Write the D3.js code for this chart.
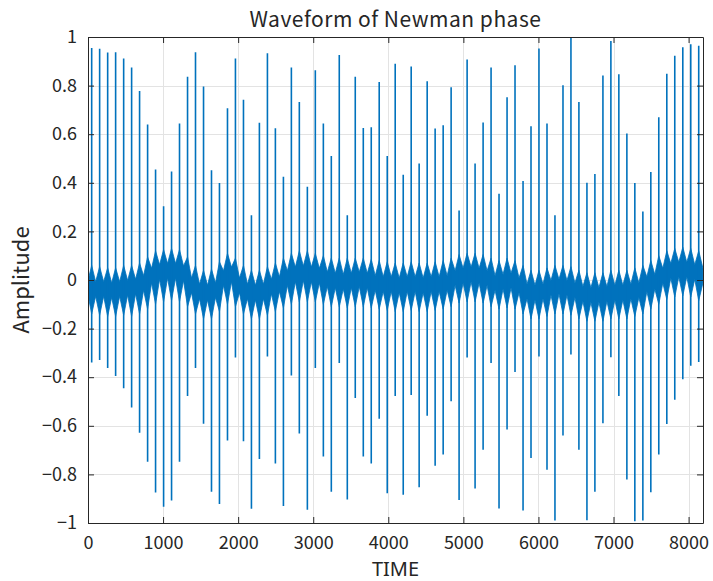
<!DOCTYPE html>
<html>
<head>
<meta charset="utf-8">
<script src="https://cdn.jsdelivr.net/npm/d3@7"></script>
<style>
  html, body { margin: 0; padding: 0; background: #fff; }
  svg { display: block; }
  text { font-family: "Noto Sans CJK JP", "Noto Sans", sans-serif; fill: #262626; }
</style>
</head>
<body>
<svg id="chart" width="713" height="581"></svg>
<script>
// Sample index of each burst in the Newman-phase multitone
const spikeTime = [49, 155, 262, 368, 475, 581, 687, 794, 900, 1007,
  1113, 1219, 1326, 1432, 1539, 1645, 1751, 1858, 1964, 2071,
  2177, 2283, 2390, 2496, 2603, 2709, 2815, 2922, 3028, 3135,
  3241, 3347, 3454, 3560, 3667, 3773, 3879, 3986, 4092, 4199,
  4305, 4411, 4518, 4624, 4731, 4837, 4943, 5050, 5156, 5263,
  5369, 5475, 5582, 5688, 5795, 5901, 6007, 6114, 6220, 6327,
  6433, 6539, 6646, 6752, 6859, 6965, 7071, 7178, 7284, 7391,
  7497, 7603, 7710, 7816, 7923, 8029, 8135];

// Positive peak of each burst
const spikeHigh = [0.955, 0.952, 0.936, 0.937, 0.912, 0.874, 0.778, 0.640, 0.455, 0.303,
  0.447, 0.644, 0.836, 0.937, 0.796, 0.452, 0.399, 0.707, 0.912, 0.742,
  0.266, 0.647, 0.933, 0.625, 0.425, 0.874, 0.732, 0.384, 0.863, 0.644,
  0.510, 0.926, 0.266, 0.836, 0.626, 0.629, 0.815, 0.510, 0.890, 0.433,
  0.879, 0.479, 0.818, 0.623, 0.637, 0.793, 0.286, 0.907, 0.479, 0.648,
  0.875, 0.355, 0.752, 0.884, 0.407, 0.633, 0.953, 0.644, 0.266, 0.801,
  1.000, 0.732, 0.400, 0.436, 0.842, 0.984, 0.847, 0.603, 0.399, 0.282,
  0.444, 0.670, 0.849, 0.923, 0.958, 0.970, 0.964];

// Negative peak of each burst
const spikeLow = [-0.340, -0.329, -0.362, -0.395, -0.445, -0.525, -0.629, -0.748, -0.874, -0.933,
  -0.907, -0.748, -0.477, -0.362, -0.592, -0.871, -0.922, -0.660, -0.319, -0.664,
  -0.941, -0.737, -0.315, -0.755, -0.930, -0.393, -0.632, -0.945, -0.362, -0.726,
  -0.871, -0.342, -0.903, -0.486, -0.726, -0.755, -0.571, -0.878, -0.477, -0.884,
  -0.473, -0.853, -0.559, -0.764, -0.718, -0.499, -0.905, -0.319, -0.858, -0.699,
  -0.342, -0.940, -0.615, -0.379, -0.949, -0.733, -0.315, -0.781, -0.990, -0.640,
  -0.307, -0.699, -0.989, -0.871, -0.590, -0.318, -0.477, -0.821, -0.993, -0.990,
  -0.873, -0.718, -0.593, -0.493, -0.408, -0.353, -0.337];

// Flare of the dense ripple right at each burst
const cuspTop = [0.06, 0.055, 0.05, 0.05, 0.06, 0.06, 0.07, 0.095, 0.12, 0.125,
  0.13, 0.125, 0.095, 0.06, 0.04, 0.045, 0.075, 0.11, 0.09, 0.06,
  0.04, 0.04, 0.055, 0.07, 0.09, 0.11, 0.12, 0.12, 0.11, 0.10,
  0.09, 0.09, 0.09, 0.09, 0.09, 0.085, 0.08, 0.075, 0.07, 0.07,
  0.075, 0.07, 0.07, 0.075, 0.08, 0.09, 0.105, 0.11, 0.11, 0.105,
  0.09, 0.08, 0.09, 0.08, 0.06, 0.04, 0.04, 0.05, 0.06, 0.06,
  0.055, 0.04, 0.03, 0.03, 0.03, 0.04, 0.04, 0.04, 0.05, 0.06,
  0.08, 0.10, 0.12, 0.13, 0.135, 0.13, 0.12];
const cuspBottom = [-0.14, -0.145, -0.15, -0.15, -0.145, -0.15, -0.14, -0.12, -0.10, -0.09,
  -0.085, -0.09, -0.11, -0.14, -0.16, -0.16, -0.13, -0.10, -0.11, -0.14,
  -0.16, -0.16, -0.145, -0.13, -0.115, -0.10, -0.09, -0.09, -0.09, -0.10,
  -0.11, -0.11, -0.115, -0.11, -0.11, -0.115, -0.12, -0.125, -0.13, -0.13,
  -0.125, -0.13, -0.13, -0.125, -0.12, -0.11, -0.095, -0.09, -0.09, -0.095,
  -0.11, -0.12, -0.115, -0.12, -0.14, -0.16, -0.16, -0.15, -0.14, -0.14,
  -0.145, -0.16, -0.17, -0.17, -0.17, -0.16, -0.16, -0.16, -0.15, -0.14,
  -0.12, -0.10, -0.08, -0.07, -0.065, -0.07, -0.085];

// Edges of the dense ripple midway between bursts (plus both ends)
const bandTop = [-0.002, -0.007, -0.007, -0.012, -0.007, -0.002, 0.003, 0.018, 0.048, 0.063,
  0.068, 0.068, 0.058, 0.008, -0.017, -0.022, -0.012, 0.038, 0.053, 0.008,
  -0.017, -0.022, -0.017, 0.003, 0.013, 0.038, 0.053, 0.058, 0.053, 0.048,
  0.033, 0.028, 0.023, 0.028, 0.033, 0.028, 0.018, 0.013, 0.013, 0.008,
  0.013, 0.013, 0.008, 0.013, 0.013, 0.018, 0.038, 0.048, 0.053, 0.048,
  0.038, 0.018, 0.023, 0.028, 0.008, -0.017, -0.022, -0.017, -0.002, 0.003,
  -0.002, -0.012, -0.027, -0.032, -0.032, -0.027, -0.022, -0.022, -0.017, -0.012,
  0.013, 0.023, 0.048, 0.068, 0.073, 0.073, 0.063, 0.048];
const bandBottom = [-0.062, -0.067, -0.067, -0.072, -0.067, -0.062, -0.057, -0.042, -0.012, 0.003,
  0.008, 0.008, -0.002, -0.052, -0.077, -0.082, -0.072, -0.022, -0.007, -0.052,
  -0.077, -0.082, -0.077, -0.057, -0.047, -0.022, -0.007, -0.002, -0.007, -0.012,
  -0.027, -0.032, -0.037, -0.032, -0.027, -0.032, -0.042, -0.047, -0.047, -0.052,
  -0.047, -0.047, -0.052, -0.047, -0.047, -0.042, -0.022, -0.012, -0.007, -0.012,
  -0.022, -0.042, -0.037, -0.032, -0.052, -0.077, -0.082, -0.077, -0.062, -0.057,
  -0.062, -0.072, -0.087, -0.092, -0.092, -0.087, -0.082, -0.082, -0.077, -0.072,
  -0.047, -0.037, -0.012, 0.008, 0.013, 0.013, 0.003, -0.012];

const xTicks = [0, 1000, 2000, 3000, 4000, 5000, 6000, 7000, 8000];
const xTickLabels = ["0", "1000", "2000", "3000", "4000", "5000", "6000", "7000", "8000"];
const yTicks = [-1, -0.8, -0.6, -0.4, -0.2, 0, 0.2, 0.4, 0.6, 0.8, 1];
const yTickLabels = ["\u22121", "\u22120.8", "\u22120.6", "\u22120.4", "\u22120.2", "0", "0.2", "0.4", "0.6", "0.8", "1"];

const titleText = "Waveform of Newman phase";
const xLabel = "TIME";
const yLabel = "Amplitude";
const nSamples = 8192;

const lineColor = "#0072BD";
const axisColor = "#262626";
const gridColor = "#e3e3e3";

const svg = d3.select("#chart");
const L = 88, R = 703, T = 37, B = 523;

const x = d3.scaleLinear().domain([0, nSamples]).range([L, R]);
const y = d3.scaleLinear().domain([-1, 1]).range([B, T]);

svg.append("rect").attr("width", 713).attr("height", 581).attr("fill", "#fff");

// grid
const grid = svg.append("g");
grid.selectAll("line.gx").data(xTicks).join("line")
  .attr("x1", d => Math.round(x(d)) + 0.5).attr("x2", d => Math.round(x(d)) + 0.5)
  .attr("y1", T).attr("y2", B)
  .attr("stroke", gridColor).attr("stroke-width", 1);
grid.selectAll("line.gy").data(yTicks).join("line")
  .attr("y1", d => Math.round(y(d)) + 0.5).attr("y2", d => Math.round(y(d)) + 0.5)
  .attr("x1", L).attr("x2", R)
  .attr("stroke", gridColor).attr("stroke-width", 1);

// clip region for the waveform
svg.append("defs").append("clipPath").attr("id", "plotClip")
  .append("rect").attr("x", L).attr("y", T - 1).attr("width", R - L).attr("height", B - T + 2);

const plot = svg.append("g").attr("clip-path", "url(#plotClip)");

// dense ripple between bursts
const bandTime = [0, ...spikeTime.slice(1).map((t, i) => (t + spikeTime[i]) / 2), nSamples - 1];
const bandPts = [];
bandTime.forEach((t, j) => {
  bandPts.push({ t, hi: bandTop[j], lo: bandBottom[j] });
  if (j < spikeTime.length) bandPts.push({ t: spikeTime[j], hi: cuspTop[j], lo: cuspBottom[j] });
});
const area = d3.area()
  .x(d => x(d.t))
  .y0(d => y(d.lo))
  .y1(d => y(d.hi));
plot.append("path").datum(bandPts)
  .attr("d", area)
  .attr("fill", lineColor)
  .attr("stroke", lineColor)
  .attr("stroke-width", 0.8);

// bursts
const line = d3.line().x(d => x(d[0])).y(d => y(d[1]));
plot.selectAll("path.spike")
  .data(spikeTime.map((t, i) => [[t, spikeLow[i]], [t, spikeHigh[i]]]))
  .join("path")
  .attr("class", "spike")
  .attr("d", line)
  .attr("fill", "none")
  .attr("stroke", lineColor)
  .attr("stroke-width", 1.6);

// axes (ticks point inward, box on all four sides)
function styleAxis(g) {
  g.selectAll("path.domain").attr("stroke", axisColor).attr("stroke-width", 1);
  g.selectAll(".tick line").attr("stroke", axisColor).attr("stroke-width", 1);
  g.selectAll(".tick text").attr("fill", axisColor).style("font-size", "18px")
    .style("font-family", '"Noto Sans CJK JP", "Noto Sans", sans-serif');
}
const xAxis = d3.axisBottom(x).tickValues(xTicks)
  .tickFormat((d, i) => xTickLabels[i]).tickSizeInner(-6).tickSizeOuter(0).tickPadding(13);
const yAxis = d3.axisLeft(y).tickValues(yTicks)
  .tickFormat((d, i) => yTickLabels[i]).tickSizeInner(-6).tickSizeOuter(0).tickPadding(11);
const xAxisTop = d3.axisTop(x).tickValues(xTicks).tickFormat("").tickSizeInner(-6).tickSizeOuter(0);
const yAxisRight = d3.axisRight(y).tickValues(yTicks).tickFormat("").tickSizeInner(-6).tickSizeOuter(0);

svg.append("g").attr("transform", `translate(0,${B})`).call(xAxis).call(styleAxis);
svg.append("g").attr("transform", `translate(${L},0)`).call(yAxis).call(styleAxis);
svg.append("g").attr("transform", `translate(0,${T})`).call(xAxisTop).call(styleAxis);
svg.append("g").attr("transform", `translate(${R},0)`).call(yAxisRight).call(styleAxis);

// title and axis labels
svg.append("text").attr("x", (L + R) / 2).attr("y", 27)
  .attr("text-anchor", "middle").style("font-size", "21px").style("letter-spacing", "0.5px")
  .text(titleText);
svg.append("text").attr("x", (L + R) / 2).attr("y", 576)
  .attr("text-anchor", "middle").style("font-size", "20px")
  .style("font-family", '"Noto Sans", sans-serif').text(xLabel);
svg.append("text").attr("transform", `translate(29,${(T + B) / 2}) rotate(-90)`)
  .attr("text-anchor", "middle").style("font-size", "22px").text(yLabel);
</script>
</body>
</html>
